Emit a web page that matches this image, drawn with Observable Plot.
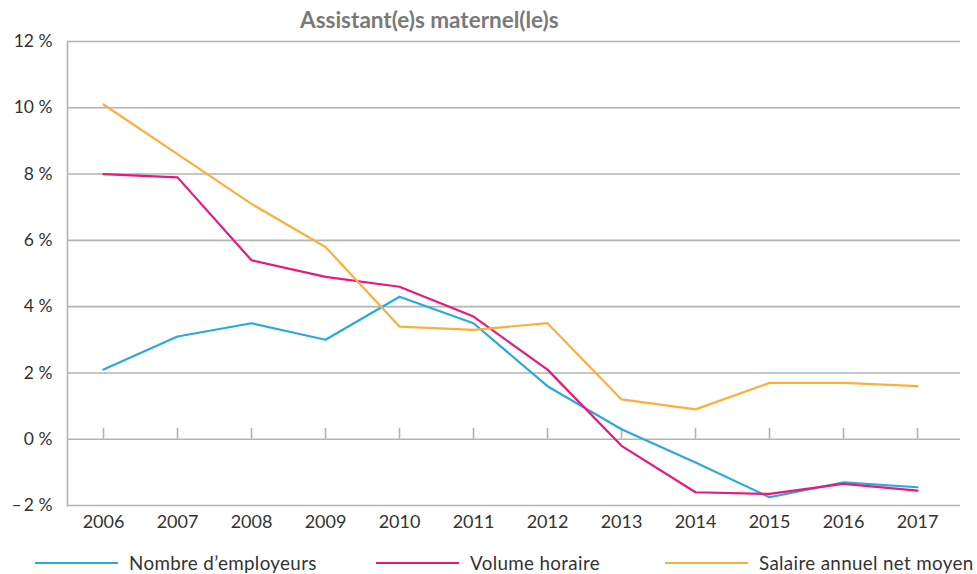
<!DOCTYPE html>
<html><head><meta charset="utf-8">
<script src="https://cdn.jsdelivr.net/npm/d3@7"></script>
<script src="https://cdn.jsdelivr.net/npm/@observablehq/plot@0.6"></script>
<style>
body{margin:0;background:#fff;font-family:Lato,sans-serif;}
#wrap{position:relative;width:977px;height:574px;overflow:hidden;}
#title{position:absolute;top:6px;left:300px;font-weight:bold;font-size:22.5px;color:#7a7a7a;white-space:nowrap;}
#chart{position:absolute;top:0;left:0;}
.leg{position:absolute;top:551px;font-size:18.8px;letter-spacing:0.35px;color:#333;white-space:nowrap;line-height:24px;}
.leg .sw{position:absolute;top:11px;height:2px;width:83px;}
</style></head>
<body><div id="wrap"><div id="chart"></div><div id="title"></div><div id="legend"></div></div>
<script>
const title = "Assistant(e)s maternel(le)s";
const years = ["2006","2007","2008","2009","2010","2011","2012","2013","2014","2015","2016","2017"];
const seriesNames = ["Nombre d’employeurs","Volume horaire","Salaire annuel net moyen"];
const seriesColors = ["#2aa9e0","#e8197a","#fbb03b"];
const employeurs = [2.1,3.1,3.5,3.0,4.3,3.5,1.6,0.3,-0.7,-1.75,-1.3,-1.45];
const volume = [8.0,7.9,5.4,4.9,4.6,3.7,2.1,-0.2,-1.6,-1.65,-1.35,-1.55];
const salaire = [10.1,8.6,7.1,5.8,3.4,3.3,3.5,1.2,0.9,1.7,1.7,1.6];
const yTicks = [-2,0,2,4,6,8,10,12];

const values = [employeurs, volume, salaire];
const data = [];
seriesNames.forEach((s,i)=>years.forEach((y,j)=>data.push({series:s, year:y, value:values[i][j]})));

const grid = "#b3b3b3";
const fmt = d => d < 0 ? `\u2013\u2009${-d} %` : `${d} %`;

const chart = Plot.plot({
  width: 977, height: 540,
  marginTop: 41, marginLeft: 67, marginRight: 17, marginBottom: 35,
  style: {fontFamily: "Lato, sans-serif", fontSize: "17px", color: "#333", background: "#fff"},
  x: {type: "point", domain: years, range: [100, 919], padding: 0},
  y: {domain: [-2, 12]},
  color: {domain: seriesNames, range: seriesColors},
  marks: [
    Plot.ruleY(yTicks, {stroke: grid, strokeWidth: 1.6}),
    Plot.frame({anchor: "left", stroke: grid, strokeWidth: 1.6}),
    Plot.ruleX(years, {x: d => d, y1: 0, y2: 0.33, stroke: grid, strokeWidth: 1.6}),
    Plot.line(data, {x: "year", y: "value", z: "series", stroke: "series", strokeWidth: 2.2}),
    Plot.axisY({ticks: yTicks, tickSize: 0, tickPadding: 15, tickFormat: fmt, label: null, fontSize: 17.5}),
    Plot.axisX({tickSize: 0, tickPadding: 10, label: null, fontSize: 18})
  ]
});
document.getElementById("chart").appendChild(chart);
document.getElementById("title").textContent = title;

const legLeft = [35, 376, 665];
const leg = document.getElementById("legend");
seriesNames.forEach((s,i)=>{
  const d = document.createElement("div");
  d.className = "leg";
  d.style.left = legLeft[i] + "px";
  d.style.paddingLeft = "94px";
  d.innerHTML = `<span class="sw" style="left:0;background:${seriesColors[i]}"></span>${s}`;
  leg.appendChild(d);
});
</script>
</body></html>
